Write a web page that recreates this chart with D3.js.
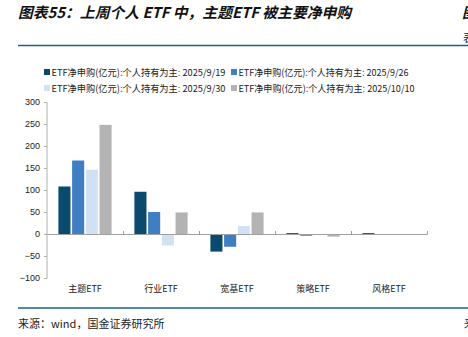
<!DOCTYPE html>
<html><head><meta charset="utf-8">
<script src="https://cdn.jsdelivr.net/npm/d3@7"></script>
<style>body{margin:0;background:#fff;}svg{display:block;}</style>
</head><body>
<svg id="c" width="468" height="337"></svg>
<script>
const categories = ["主题ETF","行业ETF","宽基ETF","策略ETF","风格ETF"];
const seriesNames = ["ETF净申购(亿元):个人持有为主: 2025/9/19","ETF净申购(亿元):个人持有为主: 2025/9/26","ETF净申购(亿元):个人持有为主: 2025/9/30","ETF净申购(亿元):个人持有为主: 2025/10/10"];
const s0919 = [108, 96, -40, 2, 2];
const s0926 = [167, 50, -29, -4, -2];
const s0930 = [146, -26, 18, -1, -1];
const s1010 = [248, 49, 49, -6, -1];
const yTicks = [300,250,200,150,100,50,0,-50,-100];
const colors = ["#0a4a6e","#3f7ec2","#cfe1f2","#b3b3b3"];
const series = [s0919, s0926, s0930, s1010];

const svg = d3.select("#c");
const font = "'Liberation Sans', Arial, sans-serif";
const cjk = "'Noto Sans CJK SC', sans-serif";

// title
svg.append("text").attr("x",18).attr("y",18).attr("font-family",cjk).attr("font-size",14.8)
  .attr("font-weight","bold").attr("font-style","italic").attr("fill","#111")
  .text("图表55：上周个人 ETF 中，主题ETF 被主要净申购");
svg.append("text").attr("x",462).attr("y",18).attr("font-family",cjk).attr("font-size",14.5)
  .attr("font-weight","bold").attr("font-style","italic").attr("fill","#111").text("图");
svg.append("text").attr("x",463).attr("y",42).attr("font-family",cjk).attr("font-size",11)
  .attr("fill","#222").text("表");
svg.append("line").attr("x1",18).attr("x2",468).attr("y1",45.5).attr("y2",45.5)
  .attr("stroke","#1d5f8a").attr("stroke-width",1.5);
svg.append("line").attr("x1",18).attr("x2",468).attr("y1",308).attr("y2",308)
  .attr("stroke","#1d5f8a").attr("stroke-width",1.5);
svg.append("text").attr("x",18).attr("y",328).attr("font-family",cjk).attr("font-size",11)
  .attr("fill","#222").text("来源：wind，国金证券研究所");
svg.append("text").attr("x",464).attr("y",328).attr("font-family",cjk).attr("font-size",11)
  .attr("fill","#222").text("来");

// scales
const y = d3.scaleLinear().domain([-100,300]).range([278,102]);
const x0 = d3.scaleBand().domain(categories).range([47,427]).paddingInner(0.3).paddingOuter(0.15);
const x1 = d3.scaleBand().domain(d3.range(4)).range([0,x0.bandwidth()]).paddingInner(0.12);

// y axis
const yAxis = d3.axisLeft(y).tickValues(yTicks).tickSize(3).tickPadding(4);
const ga = svg.append("g").attr("transform","translate(47,0)").call(yAxis);
ga.select(".domain").attr("stroke","#b0b0b0").attr("d","M-3,102.5H0V278.5H-3");
ga.selectAll(".tick line").attr("stroke","#b0b0b0");
ga.selectAll(".tick text").attr("font-family",font).attr("font-size",9).attr("fill","#222");

// bars
categories.forEach((c,i)=>{
  series.forEach((s,k)=>{
    const v = s[i];
    svg.append("rect").attr("x",x0(c)+x1(k)).attr("width",x1.bandwidth())
      .attr("y",y(Math.max(0,v))).attr("height",Math.abs(y(v)-y(0)))
      .attr("fill",colors[k]);
  });
});

// x axis at zero
const xb = d3.scaleBand().domain(categories).range([47,427]);
const gx = svg.append("g").attr("transform",`translate(0,${y(0)})`)
  .call(d3.axisBottom(xb).tickSize(0).tickFormat(""));
gx.select(".domain").attr("stroke","#a0a0a0").attr("d","M47,0.5H427");
categories.forEach((c,i)=>{
  const xx = Math.round(xb(c)+xb.bandwidth())+0.5;
  svg.append("line").attr("x1",xx).attr("x2",xx).attr("y1",y(0)-3).attr("y2",y(0)+0.5).attr("stroke","#a0a0a0");
});
categories.forEach(c=>{
  svg.append("text").attr("x",xb(c)+xb.bandwidth()/2).attr("y",292).attr("text-anchor","middle")
    .attr("font-family",cjk).attr("font-size",9).attr("fill","#222").text(c);
});

// legend
const legPos = [[44,76],[231,76],[44,92],[231,92]];
const legLen = [174,170,174,176];
seriesNames.forEach((n,k)=>{
  const [lx,ly] = legPos[k];
  svg.append("rect").attr("x",lx).attr("y",ly-7).attr("width",6).attr("height",6).attr("fill",colors[k]);
  svg.append("text").attr("x",lx+7.5).attr("y",ly).attr("font-family",cjk).attr("font-size",9.6)
    .attr("textLength",legLen[k]).attr("lengthAdjust","spacingAndGlyphs")
    .attr("fill","#222").text(n);
});
</script>
</body></html>
